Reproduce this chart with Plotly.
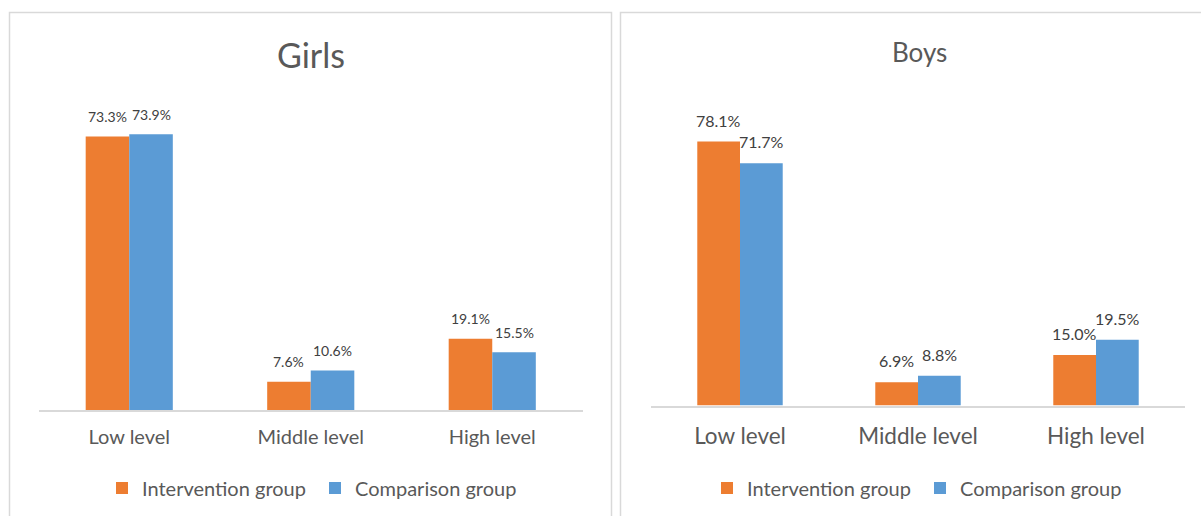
import plotly.graph_objects as go

# Level categories and percentage values for each group
levels = ["Low level", "Middle level", "High level"]
girls_intervention = [73.3, 7.6, 19.1]
girls_comparison = [73.9, 10.6, 15.5]
boys_intervention = [78.1, 6.9, 15.0]
boys_comparison = [71.7, 8.8, 19.5]
series_names = ["Intervention group", "Comparison group"]

ORANGE = "#ED7D31"
BLUE = "#5B9BD5"
TEXT = "#595959"
LABEL = "#404040"
BORDER = "#d9d9d9"
FONT = "Lato"

W, H = 1201, 516


def px_x(p):
    return p / W


def px_y(p):
    return (H - p) / H


fig = go.Figure()

panels = [
    dict(vals=(girls_intervention, girls_comparison), xa="x", ya="y", legend="legend"),
    dict(vals=(boys_intervention, boys_comparison), xa="x2", ya="y2", legend="legend2"),
]

for panel in panels:
    for vals, name, color in zip(panel["vals"], series_names, (ORANGE, BLUE)):
        fig.add_trace(go.Bar(
            x=levels, y=vals, name=name,
            marker=dict(color=color, line=dict(width=0)),
            xaxis=panel["xa"], yaxis=panel["ya"], legend=panel["legend"],
            hoverinfo="skip",
        ))

# Value labels above each bar
annotations = []
for panel, size, shift in zip(panels, (14, 16), (20, 21.5)):
    for k, vals in enumerate(panel["vals"]):
        offset = -0.12 if k == 0 else 0.12
        for i, v in enumerate(vals):
            annotations.append(dict(
                x=i + offset, y=v, xref=panel["xa"], yref=panel["ya"],
                text=f"{v:.1f}%", showarrow=False, yanchor="middle",
                yshift=shift, font=dict(family=FONT, size=size, color=LABEL),
            ))

# Panel titles
annotations.append(dict(x=px_x(311), y=px_y(55), xref="paper", yref="paper",
                        text="Girls", showarrow=False, xanchor="center", yanchor="middle",
                        font=dict(family=FONT, size=34, color=TEXT)))
annotations.append(dict(x=px_x(919), y=px_y(52), xref="paper", yref="paper",
                        text="Boys", showarrow=False, xanchor="center", yanchor="middle",
                        font=dict(family=FONT, size=26, color=TEXT)))

# Chart-area borders
shapes = [
    dict(type="rect", xref="paper", yref="paper",
         x0=px_x(9.5), x1=px_x(611.5), y0=px_y(530), y1=px_y(12.5),
         line=dict(color=BORDER, width=1.5), fillcolor="rgba(0,0,0,0)", layer="below"),
    dict(type="rect", xref="paper", yref="paper",
         x0=px_x(620.5), x1=px_x(1215), y0=px_y(530), y1=px_y(12.5),
         line=dict(color=BORDER, width=1.5), fillcolor="rgba(0,0,0,0)", layer="below"),
]

xaxis_common = dict(showline=True, linecolor=BORDER, linewidth=1.5, showgrid=False,
                    zeroline=False, ticks="", fixedrange=True, type="category")
yaxis_common = dict(showline=False, showgrid=False, zeroline=False,
                    showticklabels=False, ticks="", fixedrange=True)

legend_common = dict(orientation="h", yanchor="middle", xanchor="left",
                     entrywidth=168, entrywidthmode="pixels",
                     font=dict(family=FONT, size=20, color=TEXT), bgcolor="rgba(0,0,0,0)")

fig.update_layout(
    width=W, height=H,
    margin=dict(l=0, r=0, t=0, b=0),
    paper_bgcolor="white", plot_bgcolor="white",
    barmode="group", bargap=0.52, bargroupgap=0,
    showlegend=True,
    xaxis=dict(domain=[px_x(38.5), px_x(583)], anchor="y",
               tickfont=dict(family=FONT, size=20, color=TEXT),
               ticklabelstandoff=8, **xaxis_common),
    yaxis=dict(domain=[px_y(410), px_y(410 - 80 * 3.73)], range=[0, 80], anchor="x",
               **yaxis_common),
    xaxis2=dict(domain=[px_x(651), px_x(1185)], anchor="y2",
                tickfont=dict(family=FONT, size=22.5, color=TEXT),
                ticklabelstandoff=10, **xaxis_common),
    yaxis2=dict(domain=[px_y(405.6), px_y(405.6 - 90 * 3.38)], range=[0, 90], anchor="x2",
                **yaxis_common),
    legend=dict(x=px_x(102), y=px_y(488), **legend_common),
    legend2=dict(x=px_x(707), y=px_y(488), **legend_common),
    annotations=annotations,
    shapes=shapes,
)

fig.write_html("out.html", config={"displayModeBar": False})
